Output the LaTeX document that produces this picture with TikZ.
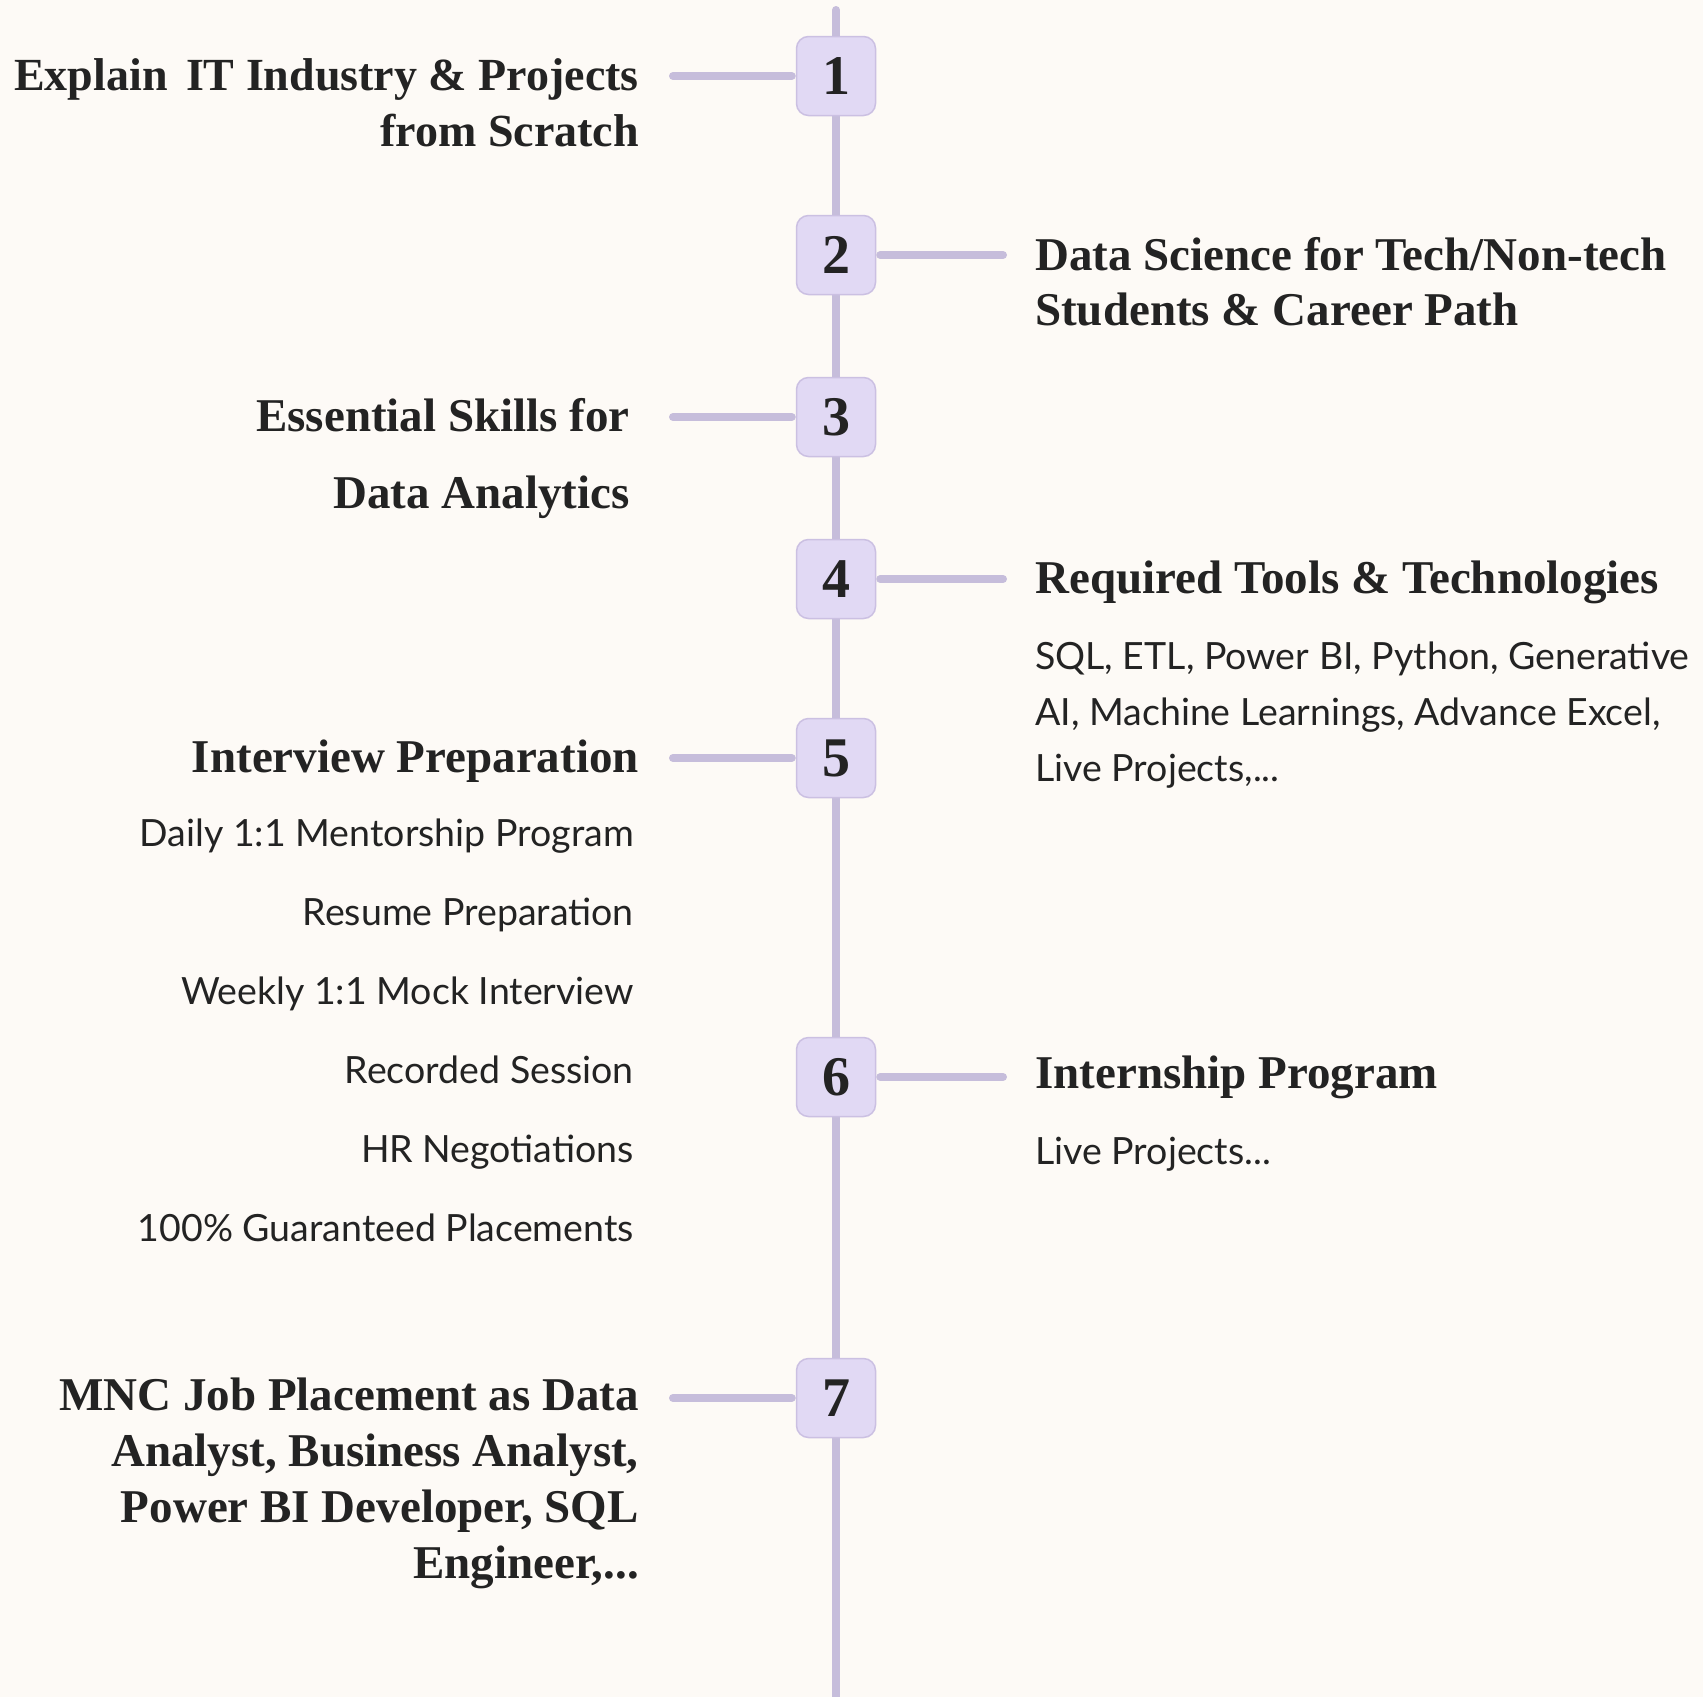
\documentclass[tikz,border=0pt]{standalone}
\usepackage{fontspec}
\setmainfont{Liberation Serif}
\newfontfamily\bodyfont{Lato}
\usetikzlibrary{positioning}

\definecolor{paper}{HTML}{FDFAF6}
\definecolor{railc}{HTML}{C6BDDB}
\definecolor{boxfill}{HTML}{E1D9F4}
\definecolor{boxedge}{HTML}{CBC0E2}
\definecolor{ink}{HTML}{232323}

\begin{document}
\begin{tikzpicture}[x=1pt, y=-1pt,
    rail/.style={draw=railc, line width=8pt, line cap=round},
    stepbox/.style={draw=boxedge, line width=1.5pt, fill=boxfill, rounded corners=12pt,
      minimum size=79pt, inner sep=0pt, text=ink, font=\bfseries\fontsize{56}{56}\selectfont},
    title/.style={inner sep=0pt, text=ink, font=\bfseries\fontsize{47}{55}\selectfont},
    detail/.style={inner sep=0pt, text=ink, font=\bodyfont\fontsize{37.5}{56}\selectfont}]

  % Background and page size.
  \fill [paper] (0, 0) rectangle (1703, 1697);
  \useasboundingbox (0, 0) rectangle (1703, 1697);

  % Draw the timeline.
  \coordinate (top) at (836, 10);
  \coordinate (bottom) at (836, 1697);
  \draw [rail] (top) -- (bottom);

  % Draw the steps.
  \node [stepbox] (s1) at (836, 76) {1};
  \node [stepbox] (s2) at (836, 255) {2};
  \node [stepbox] (s3) at (836, 417) {3};
  \node [stepbox] (s4) at (836, 579) {4};
  \node [stepbox] (s5) at (836, 758) {5};
  \node [stepbox] (s6) at (836, 1077) {6};
  \node [stepbox] (s7) at (836, 1398) {7};

  % Draw the side links.
  \coordinate (l1) at (673, 76);
  \coordinate (r2) at (1003, 255);
  \coordinate (l3) at (673, 417);
  \coordinate (r4) at (1003, 579);
  \coordinate (l5) at (673, 758);
  \coordinate (r6) at (1003, 1077);
  \coordinate (l7) at (673, 1398);
  \draw [rail, shorten >=4pt] (l1) -- (s1);
  \draw [rail, shorten <=4pt] (s2) -- (r2);
  \draw [rail, shorten >=4pt] (l3) -- (s3);
  \draw [rail, shorten <=4pt] (s4) -- (r4);
  \draw [rail, shorten >=4pt] (l5) -- (s5);
  \draw [rail, shorten <=4pt] (s6) -- (r6);
  \draw [rail, shorten >=4pt] (l7) -- (s7);

  % Left texts (base = last line).
  \node [title, anchor=base east, align=right, font=\bfseries\fontsize{46}{56}\selectfont] (t1) at (639, 146)
    {Explain\hspace{0.4em}IT Industry \& Projects\\from Scratch};
  \node [title, anchor=base east, align=right] (t3) at (630, 508)
    {Essential Skills for\\[22pt]Data Analytics};
  \node [title, anchor=base east] (t5) at (639, 772) {Interview Preparation};
  \node [detail, anchor=base east, align=right, font=\bodyfont\fontsize{37.5}{79}\selectfont] (d5) at (634, 1241)
    {Daily 1:1 Mentorship Program\\Resume Preparation\\Weekly 1:1 Mock Interview\\Recorded Session\\HR Negotiations\\100\% Guaranteed Placements};
  \node [title, anchor=base east, align=right, font=\bfseries\fontsize{47}{56}\selectfont] (t7) at (639, 1578)
    {MNC Job Placement as Data\\Analyst, Business Analyst,\\Power BI Developer, SQL\\Engineer,...};

  % Right texts.
  \node [title, anchor=base west, align=left] (t2) at (1035, 325)
    {Data Science for Tech/Non-tech\\Students \& Career Path};
  \node [title, anchor=base west] (t4) at (1035, 593) {Required Tools \& Technologies};
  \node [detail, anchor=base west, align=left] (d4) at (1035, 781)
    {SQL, ETL, Power BI, Python, Generative\\AI, Machine Learnings, Advance Excel,\\Live Projects,...};
  \node [title, anchor=base west] (t6) at (1035, 1088) {Internship Program};
  \node [detail, anchor=base west] (d6) at (1035, 1164) {Live Projects...};
\end{tikzpicture}
\end{document}
